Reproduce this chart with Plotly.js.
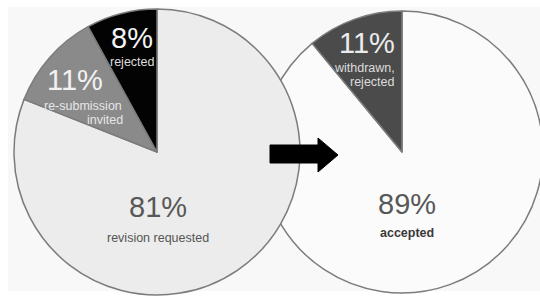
<!DOCTYPE html>
<html>
<head>
<meta charset="utf-8">
<script src="https://cdn.plot.ly/plotly-3.0.1.min.js"></script>
<style>
html,body{margin:0;padding:0;overflow:hidden;background:#fff;width:540px;height:297px;}
#chart{width:550px;height:297px;}
</style>
</head>
<body>
<div id="chart"></div>
<script>
// Data (listed counterclockwise from 12 o'clock)
const leftLabels = ['rejected', 're-submission invited', 'revision requested'];
const leftValues = [8, 11, 81];
const leftColors = ['#030303', '#8a8a8a', '#ececec'];
const rightLabels = ['withdrawn, rejected', 'accepted'];
const rightValues = [11, 89];
const rightColors = ['#4b4b4b', '#fbfbfb'];

const W = 550, H = 297;
const px = x => x / W;
const py = y => 1 - y / H;

function dom(cx, cy, r) {
  return { x: [px(cx - r), px(cx + r)], y: [py(cy + r), py(cy - r)] };
}
const rev = a => a.slice().reverse();

const lineStyle = { color: '#7c7c7c', width: 1.5 };

// drawn clockwise from 12 o'clock with reversed order, so the first listed
// slice sits just counterclockwise of 12 o'clock
const traces = [
  {
    type: 'pie', labels: rev(rightLabels), values: rev(rightValues), sort: false,
    direction: 'clockwise', rotation: 0,
    marker: { colors: rev(rightColors), line: lineStyle },
    textinfo: 'none', hoverinfo: 'skip', showlegend: false,
    domain: dom(402, 152, 141)
  },
  {
    type: 'pie', labels: rev(leftLabels), values: rev(leftValues), sort: false,
    direction: 'clockwise', rotation: 0,
    marker: { colors: rev(leftColors), line: lineStyle },
    textinfo: 'none', hoverinfo: 'skip', showlegend: false,
    domain: dom(157, 152, 143)
  }
];

const FONT = 'Liberation Sans, Arial, sans-serif';
function ann(text, x, y, size, color, opts) {
  return Object.assign({
    text: text, xref: 'paper', yref: 'paper', x: px(x), y: py(y),
    xanchor: 'center', yanchor: 'middle', showarrow: false,
    font: { family: FONT, size: size, color: color }
  }, opts || {});
}
const pct = v => v + '%';

const annotations = [
  // left pie
  ann(pct(leftValues[0]), 132, 38, 29, '#f4f4f4'),
  ann(leftLabels[0], 132, 62, 12.5, '#dddddd'),
  ann(pct(leftValues[1]), 75, 80, 29, '#f2f2f2'),
  ann(leftLabels[1].split(' ')[0], 124, 106, 12.5, '#e6e6e6', { xanchor: 'right' }),
  ann(leftLabels[1].split(' ')[1], 125, 120, 12.5, '#e6e6e6', { xanchor: 'right' }),
  ann(pct(leftValues[2]), 158, 207, 29, '#585858'),
  ann(leftLabels[2], 158, 238, 12.5, '#555555'),
  // right pie
  ann(pct(rightValues[0]), 367, 43, 29, '#ececec'),
  ann(rightLabels[0].split(' ')[0], 397, 68, 12.5, '#dcdcdc', { xanchor: 'right' }),
  ann(rightLabels[0].split(' ')[1], 397, 82, 12.5, '#dcdcdc', { xanchor: 'right' }),
  ann(pct(rightValues[1]), 407, 204, 29, '#585858'),
  ann('<b>' + rightLabels[1] + '</b>', 407, 233, 12.5, '#3a3a3a')
];

const arrowPts = [[270,145],[318,145],[318,138],[338,155],[318,172],[318,163],[270,163]];
const arrowPath = 'M' + arrowPts.map(p => px(p[0]) + ',' + py(p[1])).join(' L') + ' Z';

const shapes = [
  { type: 'rect', xref: 'paper', yref: 'paper', x0: px(8), x1: 1, y0: py(291), y1: py(7),
    fillcolor: '#f8f8f8', line: { width: 0 }, layer: 'below' },
  { type: 'path', xref: 'paper', yref: 'paper', path: arrowPath,
    fillcolor: '#000000', line: { color: '#000000', width: 1 }, layer: 'above' }
];

const layout = {
  width: W, height: H,
  margin: { l: 0, r: 0, t: 0, b: 0, pad: 0 },
  paper_bgcolor: '#ffffff', plot_bgcolor: '#ffffff',
  showlegend: false,
  annotations: annotations,
  shapes: shapes
};

Plotly.newPlot('chart', traces, layout, { displayModeBar: false, staticPlot: true });
</script>
</body>
</html>
